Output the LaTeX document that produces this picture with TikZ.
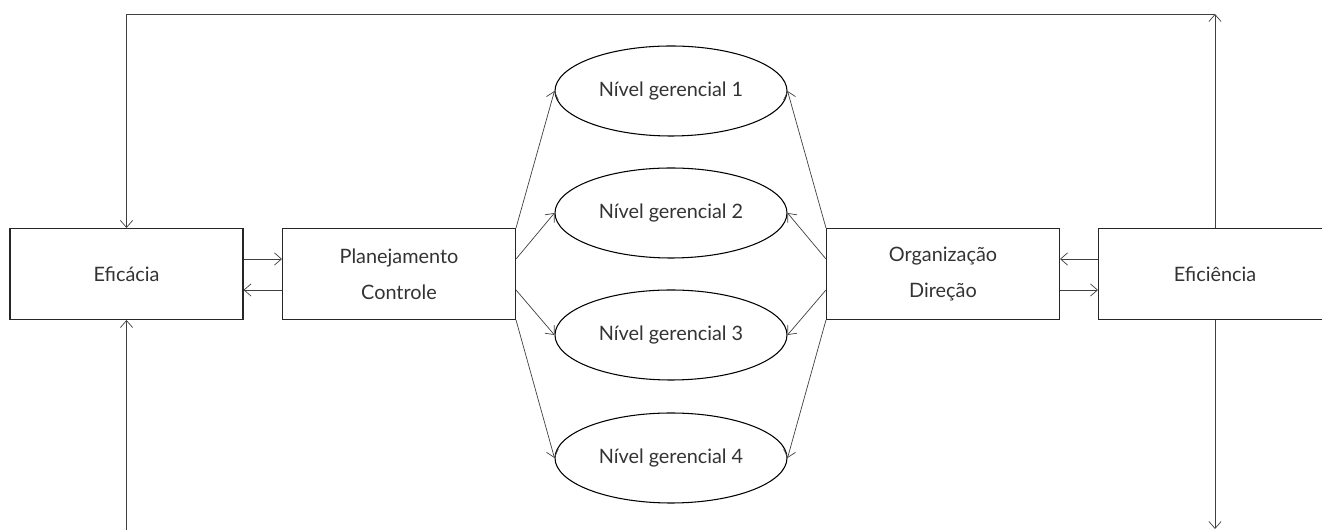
\documentclass[tikz,border=0pt]{standalone}
\usepackage{fontspec}
\setmainfont{Lato}
\usepackage{tikz}
\usetikzlibrary{calc, shapes.geometric, arrows.meta}

\begin{document}
\begin{tikzpicture}[
        box/.style={draw=black!85, semithick, minimum width=4.66cm, minimum height=1.82cm, inner sep=0pt, align=center, text=black!80},
        level/.style={ellipse, draw=black, semithick, minimum width=4.64cm, minimum height=1.8cm, inner sep=0pt, text=black!80},
        link/.style={black!75, thin, -{Straight Barb[length=4pt, width=7pt]}},
        font=\fontsize{11.3pt}{13.5pt}\selectfont
    ]
        % Fixed frame of the picture
        \useasboundingbox (0,0) rectangle (26.44,10.6);

        % Outer boxes
        \node[box] (eficacia) at (2.53, 5.12) {Efic\'acia};
        \node[box] (planej) at (7.98, 5.12) {Planejamento\\[7pt]Controle};
        \node[box] (organiz) at (18.86, 5.12) {Organiza\c{c}\~ao\\[7pt]Dire\c{c}\~ao};
        \node[box] (eficiencia) at (24.30, 5.12) {Efici\^encia};

        % Management levels
        \node[level] (n1) at (13.42, 8.78) {N\'ivel gerencial 1};
        \node[level] (n2) at (13.42, 6.34) {N\'ivel gerencial 2};
        \node[level] (n3) at (13.42, 3.90) {N\'ivel gerencial 3};
        \node[level] (n4) at (13.42, 1.44) {N\'ivel gerencial 4};

        % Corners of the feedback loop
        \coordinate (topleft) at (2.53, 10.32);
        \coordinate (topright) at (24.30, 10.32);
        \coordinate (botleft) at (2.53, -0.3);
        \coordinate (botright) at (24.30, 0.02);

        % Arrows between the boxes
        \draw[link] ($(eficacia.east)+(0,0.3)$) -- ($(planej.west)+(0,0.3)$);
        \draw[link] ($(planej.west)+(0,-0.32)$) -- ($(eficacia.east)+(0,-0.32)$);
        \draw[link] ($(eficiencia.west)+(0,0.3)$) -- ($(organiz.east)+(0,0.3)$);
        \draw[link] ($(organiz.east)+(0,-0.32)$) -- ($(eficiencia.west)+(0,-0.32)$);

        % Fan out to the levels
        \draw[link] (planej.north east) -- (n1.west);
        \draw[link] ($(planej.east)+(0,0.3)$) -- (n2.west);
        \draw[link] ($(planej.east)+(0,-0.32)$) -- (n3.west);
        \draw[link] (planej.south east) -- (n4.west);

        \draw[link] (organiz.north west) -- (n1.east);
        \draw[link] ($(organiz.west)+(0,0.3)$) -- (n2.east);
        \draw[link] ($(organiz.west)+(0,-0.32)$) -- (n3.east);
        \draw[link] (organiz.south west) -- (n4.east);

        % Feedback loop
        \draw[link] (eficiencia.north) -- (topright);
        \draw[link] (topright) -- (topleft) -- (eficacia.north);
        \draw[link] (botleft) -- (eficacia.south);
        \draw[link] (eficiencia.south) -- (botright);
    \end{tikzpicture}
\end{document}
